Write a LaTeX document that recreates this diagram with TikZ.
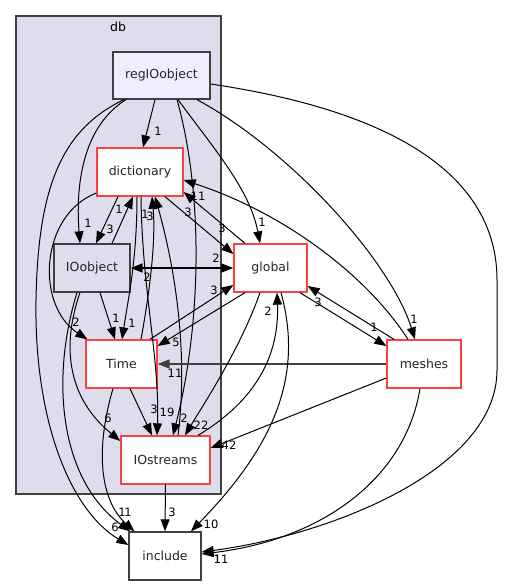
\documentclass[tikz,border=0pt]{standalone}
\usepackage{fontspec}
\setmainfont{DejaVu Sans}
\usetikzlibrary{arrows.meta}
\definecolor{clfill}{HTML}{DDDDEE}
\definecolor{regfill}{HTML}{EEEEFF}
\definecolor{bdgray}{HTML}{404040}
\definecolor{bdred}{HTML}{FF4040}
\begin{document}
\begin{tikzpicture}[x=1pt,y=-1pt,
  box/.style={rectangle, inner sep=0pt, line width=1.3pt, font=\fontsize{12.5}{14}\selectfont, text=black!85},
  graybox/.style={box, draw=bdgray},
  redbox/.style={box, draw=bdred, fill=white},
  tip/.tip={Triangle[length=12pt,width=9pt]},
  edge/.style={-tip, line width=1pt, black},
  thick edge/.style={edge, line width=1.6pt},
  lbl/.style={inner sep=0pt, font=\fontsize{11.5}{13}\selectfont}]
\useasboundingbox (0,0) rectangle (504,585);
% cluster
\node[draw=bdgray, fill=clfill, line width=1.3pt, minimum width=205pt, minimum height=478pt, inner sep=0pt] (db) at (118.5,255) {};
\node[lbl, font=\fontsize{12.5}{14}\selectfont] (dblbl) at (118,27) {db};
% nodes
\node[graybox, fill=regfill, minimum width=97pt, minimum height=47pt] (reg) at (161.5,75.5) {regIOobject};
\node[redbox, minimum width=86pt, minimum height=48pt] (dict) at (140,172) {dictionary};
\node[graybox, fill=clfill, minimum width=76pt, minimum height=48pt] (ioobj) at (92,268) {IOobject};
\node[redbox, minimum width=71pt, minimum height=48pt] (time) at (121.5,364) {Time};
\node[redbox, minimum width=89pt, minimum height=48pt] (iostr) at (165.5,460) {IOstreams};
\node[graybox, fill=white, minimum width=72pt, minimum height=48pt] (incl) at (165,556) {include};
\node[redbox, minimum width=73pt, minimum height=48pt] (glob) at (270.5,268) {global};
\node[redbox, minimum width=74pt, minimum height=48pt] (mesh) at (424,364) {meshes};

% edges from regIOobject
\draw[edge] ([xshift=-6.5pt]reg.south) -- ([xshift=3pt]dict.north);
\draw[edge] ([xshift=-35.5pt]reg.south) .. controls (85,125) and (75,180) .. ([xshift=-12pt]ioobj.north);
\draw[edge] ([xshift=-37.5pt]reg.south) .. controls (60,130) and (38,190) .. (36,300) .. controls (34,420) and (70,510) .. ([yshift=11pt]incl.west);
\draw[edge] ([xshift=15.5pt]reg.south) .. controls (205,200) and (200,330) .. ([xshift=7.5pt]iostr.north);
\draw[edge] ([xshift=16.5pt]reg.south) .. controls (215,150) and (250,190) .. ([xshift=-10.5pt]glob.north);
\draw[edge] ([xshift=35.5pt]reg.south) .. controls (290,150) and (390,260) .. ([xshift=-9pt]mesh.north);
\draw[edge] ([yshift=-8.5pt]reg.east) .. controls (420,115) and (497,190) .. (497,280) -- (497,370) .. controls (497,470) and (330,535) .. ([yshift=4pt]incl.east);

% dictionary related
\draw[edge] ([xshift=-22pt]dict.south) -- ([xshift=4pt]ioobj.north);
\draw[edge] ([xshift=20pt]ioobj.north) -- ([xshift=-7pt]dict.south);
\draw[edge] ([yshift=-21pt]dict.west) .. controls (40,215) and (35,305) .. ([xshift=2pt]time.north west);
\draw[edge] ([xshift=-3pt]dict.south) .. controls (137,260) and (128,300) .. ([xshift=0.5pt]time.north);
\draw[edge] ([xshift=8pt]ioobj.south) -- ([xshift=-6.5pt]time.north);
\draw[edge] ([xshift=19.5pt]time.north) .. controls (150,290) and (156,240) .. ([xshift=12pt]dict.south);
\draw[edge] ([xshift=12.5pt]iostr.north) .. controls (190,340) and (170,250) .. ([xshift=15pt]dict.south);
\draw[edge] ([xshift=1pt]dict.south) .. controls (142,290) and (160,360) .. ([xshift=-8.5pt]iostr.north);
\draw[edge] ([xshift=8.5pt]time.south) -- ([xshift=-13.5pt]iostr.north);
\draw[edge] ([xshift=25pt]dict.south) -- ([yshift=14pt]glob.west);
\draw[edge] ([xshift=-25.5pt]glob.north) -- ([yshift=-20pt]dict.east);
\draw[edge] ([xshift=-16pt]mesh.north) .. controls (370,280) and (290,215) .. ([yshift=-8pt]dict.east);

% global related
\draw[thick edge, tip-tip] (ioobj.east) -- (glob.west);
\draw[edge] ([xshift=28.5pt]time.north) -- ([yshift=-17pt]glob.west);
\draw[edge] ([xshift=-25.5pt]glob.south) -- ([yshift=18pt]time.east);
\draw[thick edge, draw=bdgray] (mesh.west) -- (time.east);
\draw[edge] ([xshift=-10.5pt]glob.south) .. controls (240,350) and (200,410) .. ([xshift=19.5pt]iostr.north);
\draw[edge] ([xshift=32.5pt]iostr.north) .. controls (240,410) and (280,370) .. ([xshift=6.5pt]glob.south);
\draw[edge] ([xshift=10.5pt]glob.south) .. controls (305,380) and (270,450) .. ([xshift=26pt]incl.north);
\draw[edge] ([xshift=29.5pt]glob.south) -- ([yshift=18pt]mesh.west);
\draw[edge] ([xshift=-30pt]mesh.north) -- ([yshift=-18pt]glob.east);

% meshes
\draw[edge] ([yshift=-14pt]mesh.west) -- ([yshift=12pt]iostr.east);
\draw[edge] ([xshift=-4pt]mesh.south) .. controls (405,480) and (320,540) .. ([yshift=2pt]incl.east);

% to include
\draw[edge] (iostr.south) -- (incl.north);
\draw[edge] ([xshift=-12pt]ioobj.south) .. controls (60,350) and (70,400) .. ([yshift=19pt]iostr.west);
\draw[edge] ([xshift=-15pt]ioobj.south) .. controls (50,380) and (60,480) .. ([xshift=2pt]incl.north west);
\draw[edge] ([xshift=-8.5pt]time.south) .. controls (95,450) and (100,500) .. ([xshift=6pt]incl.north west);

% labels
\node[lbl] (a1) at (158,131) {1};
\node[lbl] (a2) at (88,223) {1};
\node[lbl] (a3) at (115,527) {6};
\node[lbl] (a4) at (184,418) {2};
\node[lbl] (a5) at (262,222) {1};
\node[lbl] (a6) at (414,319) {1};
\node[lbl] (a7) at (217.5,559) {1};
\node[lbl] (a8) at (110,229) {3};
\node[lbl] (a9) at (119,209) {1};
\node[lbl] (a10) at (76,322) {2};
\node[lbl] (a11) at (132,323) {1};
\node[lbl] (a12) at (116,318) {1};
\node[lbl] (a13) at (145,214) {1};
\node[lbl] (a14) at (150,216) {3};
\node[lbl] (a15) at (167,412) {19};
\node[lbl] (a16) at (154,409) {3};
\node[lbl] (a17) at (222,228) {3};
\node[lbl] (a18) at (188,212) {3};
\node[lbl] (a19) at (198,196) {11};
\node[lbl] (a20) at (216,258) {2};
\node[lbl] (a21) at (147,277) {2};
\node[lbl] (a22) at (214,290) {3};
\node[lbl] (a23) at (176,342) {5};
\node[lbl] (a24) at (175,373) {11};
\node[lbl] (a25) at (201,425) {22};
\node[lbl] (a26) at (268,311) {2};
\node[lbl] (a27) at (211,524) {10};
\node[lbl] (a28) at (374,327) {1};
\node[lbl] (a29) at (318,302) {3};
\node[lbl] (a30) at (229,445) {42};
\node[lbl] (a31) at (221,559) {11};
\node[lbl] (a32) at (172,512) {3};
\node[lbl] (a33) at (108,418) {6};
\node[lbl] (a34) at (122,512) {1};
\node[lbl] (a35) at (128,512) {1};
\end{tikzpicture}
\end{document}
